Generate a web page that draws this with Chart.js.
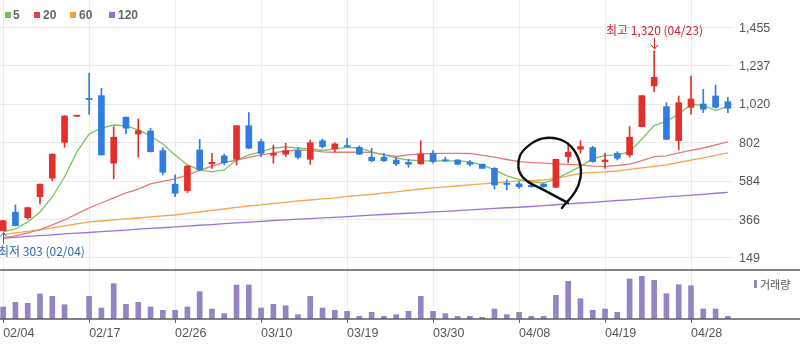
<!DOCTYPE html>
<html><head><meta charset="utf-8">
<script src="https://cdn.jsdelivr.net/npm/chart.js@4.4.1/dist/chart.umd.min.js"></script>
<style>
html,body{margin:0;padding:0;background:#fff;width:800px;height:357px;overflow:hidden;position:relative}
#wrap{position:absolute;left:-3px;top:0;width:803px;height:357px}
.lg{position:absolute;top:9px;font:bold 12px "Liberation Sans",Arial,sans-serif;color:#666;line-height:12px}
.sq{position:absolute;top:12px;width:6px;height:6px}
.vl{position:absolute;left:760px;top:278px;font:11px "Noto Sans CJK KR",sans-serif;color:#555;line-height:12px}
</style></head><body>
<div id="wrap"><canvas id="c" width="803" height="357"></canvas></div>
<div class="sq" style="left:5px;background:#74bf55"></div><div class="lg" style="left:13px">5</div>
<div class="sq" style="left:34px;background:#e8404a"></div><div class="lg" style="left:43px">20</div>
<div class="sq" style="left:70px;background:#f5a142"></div><div class="lg" style="left:79px">60</div>
<div class="sq" style="left:109px;background:#9a6fd3"></div><div class="lg" style="left:118px">120</div>
<div style="position:absolute;left:754px;top:280px;width:3px;height:8px;background:#9484c4"></div><div class="vl">거래량</div>
<script>
const dates=['02/04','02/05','02/08','02/09','02/10','02/15','02/16','02/17','02/18','02/19','02/22','02/23','02/24','02/25','02/26','03/02','03/03','03/04','03/05','03/08','03/09','03/10','03/11','03/12','03/15','03/16','03/17','03/18','03/19','03/22','03/23','03/24','03/25','03/26','03/29','03/30','03/31','04/01','04/02','04/05','04/06','04/07','04/08','04/09','04/12','04/13','04/14','04/15','04/16','04/19','04/20','04/21','04/22','04/23','04/26','04/27','04/28','04/29','04/30','05/03'];
const xTickLabels=['02/04','02/17','02/26','03/10','03/19','03/30','04/08','04/19','04/28'];
const openP=[304,408,377,496,600,803,950,1050,1067,685,945,850,867,756,566,530,760,681,726,707,897,807,730,736,756,707,812,766,781,775,719,719,703,690,681,741,700,703,690,679,656,568,568,555,566,549,722,764,773,694,741,732,892,1122,1005,813,1001,1020,1065,1033];
const highP=[362,449,436,568,738,955,953,1194,1109,892,947,935,883,773,619,671,820,741,736,899,971,820,788,798,770,816,822,801,826,783,770,741,719,707,812,756,719,705,700,681,660,590,581,572,570,709,801,812,780,741,750,892,1069,1320,1027,1065,1178,1103,1127,1058];
const lowP=[303,330,368,455,586,775,950,962,730,596,850,719,748,619,496,519,641,656,675,675,768,722,685,722,709,679,770,750,776,734,694,694,671,662,679,685,696,677,670,654,538,534,543,549,549,547,688,741,690,656,703,719,890,1090,818,760,962,971,996,971];
const closeP=[360,332,434,566,736,952,953,1045,732,832,883,869,750,634,515,669,647,690,688,897,770,741,741,756,719,801,779,794,778,736,699,699,681,679,737,694,698,679,679,656,562,565,552,552,552,707,747,779,694,703,713,832,1067,1171,820,1027,1048,990,1001,996];
const ma5=[296,313,353,409,494,607,749,850,884,901,896,873,839,794,732,675,647,636,647,703,732,749,771,777,771,766,757,766,774,771,749,732,715,703,698,698,698,698,692,675,647,613,593,579,573,596,630,667,709,729,732,749,822,898,921,963,1017,1012,983,1006];
const ma20=[262,274,291,310,336,364,398,432,460,489,517,539,568,582,596,619,644,669,689,703,718,732,743,754,760,757,749,747,747,747,746,734,723,732,737,741,741,741,740,729,719,706,694,688,685,681,678,675,669,667,672,680,700,722,726,743,757,771,788,805];
const ma60=[282,291,299,308,319,330,342,353,358,364,370,375,381,387,392,401,409,418,426,435,443,449,457,463,472,477,483,489,497,503,508,517,523,531,539,545,551,556,562,568,573,579,585,587,590,599,613,627,633,636,641,650,658,667,675,689,703,715,729,743];
const ma120=[262,266,271,275,280,285,289,293,298,302,307,312,316,320,325,329,334,338,343,347,352,356,361,365,369,372,376,379,383,387,391,395,399,402,406,410,413,417,421,425,429,433,436,440,445,450,455,460,464,469,474,478,483,489,494,499,504,509,515,520];
const volume=[2400,3340,3140,5000,4540,2860,60,4540,2200,7060,2940,3340,2400,1740,1740,2400,5460,2000,1060,6800,6800,2200,2940,2660,860,4540,2200,1740,1540,540,1340,540,860,1540,4540,1540,1060,540,540,340,2000,860,1340,540,540,4740,7540,4060,1740,2000,1340,8000,8540,7740,5060,6860,6660,2000,2000,540];
const yTickValues=[149,366.67,584.33,802,1019.67,1237.33,1455];
const yTickLabels=['149','366','584','802','1,020','1,237','1,455'];

const UP='#e3302d', DOWN='#2f7de1';
const candleCol=closeP.map((c,i)=>c>=openP[i]?UP:DOWN);
const hiIdx=highP.indexOf(Math.max(...highP));
const loIdx=lowP.indexOf(Math.min(...lowP));
const tickIdx=xTickLabels.map(l=>dates.indexOf(l));
const lblFont={family:'"Liberation Sans", Arial, sans-serif',size:12.5};

const annot={id:'annot',afterDatasetsDraw(chart){
  const {ctx,scales:{x,y}}=chart;
  ctx.save();
  const hx=Math.round(x.getPixelForValue(hiIdx))+0.5, hy=y.getPixelForValue(highP[hiIdx]);
  ctx.strokeStyle=ctx.fillStyle='#c9252b';ctx.lineWidth=1;
  ctx.beginPath();ctx.moveTo(hx,hy-13);ctx.lineTo(hx,hy-2);ctx.stroke();
  ctx.beginPath();ctx.moveTo(hx-3.5,hy-6);ctx.lineTo(hx,hy-2);ctx.lineTo(hx+3.5,hy-6);ctx.stroke();
  ctx.font='12px "Noto Sans CJK KR", sans-serif';ctx.textAlign='center';ctx.textBaseline='middle';
  ctx.fillText('최고 '+highP[hiIdx].toLocaleString('en-US')+' ('+dates[hiIdx]+')',hx,hy-20);
  const lx=Math.round(x.getPixelForValue(loIdx))+0.5, ly=y.getPixelForValue(lowP[loIdx]);
  ctx.strokeStyle=ctx.fillStyle='#2a66b4';
  ctx.beginPath();ctx.moveTo(lx,ly+13);ctx.lineTo(lx,ly+2);ctx.stroke();
  ctx.beginPath();ctx.moveTo(lx-3.5,ly+6);ctx.lineTo(lx,ly+2);ctx.lineTo(lx+3.5,ly+6);ctx.stroke();
  ctx.textAlign='left';
  ctx.fillText('최저 '+lowP[loIdx].toLocaleString('en-US')+' ('+dates[loIdx]+')',1,ly+21);
  const cx=x.getPixelForValue(45)-6, cy=y.getPixelForValue(647);
  const pts=[[18,33],[3,25],[-10,18],[-23,12],[-31,3],[-32,-9],[-28,-19],[-14,-30],[0,-33],[16,-29],[27,-17],[32,0],[29,16],[22,27],[16,33],[12,38]];
  ctx.strokeStyle='#111';ctx.lineWidth=2.4;ctx.lineJoin='round';ctx.lineCap='round';
  ctx.beginPath();ctx.moveTo(cx+pts[0][0],cy+pts[0][1]);
  for(let i=1;i<pts.length-1;i++){
    const mx=(pts[i][0]+pts[i+1][0])/2, my=(pts[i][1]+pts[i+1][1])/2;
    ctx.quadraticCurveTo(cx+pts[i][0],cy+pts[i][1],cx+mx,cy+my);
  }
  ctx.lineTo(cx+pts[pts.length-1][0],cy+pts[pts.length-1][1]);
  ctx.stroke();
  ctx.restore();
}};
const panelLines={id:'panelLines',afterDraw(chart){
  const {ctx,chartArea,scales:{y}}=chart;
  ctx.save();ctx.strokeStyle='#5c5c5c';ctx.lineWidth=1.5;
  [y.bottom,chartArea.bottom].forEach(v=>{ctx.beginPath();ctx.moveTo(0,Math.round(v));ctx.lineTo(803,Math.round(v));ctx.stroke();});
  ctx.restore();
}};
const noPad=s=>{s.width=66;s.paddingTop=0;s.paddingBottom=0;};

new Chart(document.getElementById('c'),{
  data:{labels:dates,datasets:[
    {type:'bar',label:'body',data:openP.map((o,i)=>[o,closeP[i]]),backgroundColor:candleCol,barThickness:6,minBarLength:1.2,grouped:false,yAxisID:'y',order:1,borderWidth:0},
    {type:'bar',label:'wick',data:lowP.map((l,i)=>[l,highP[i]]),backgroundColor:candleCol,barThickness:1,grouped:false,yAxisID:'y',order:2,borderWidth:0},
    {type:'line',label:'5',data:ma5,borderColor:'#7cc35c',borderWidth:1.3,pointRadius:0,yAxisID:'y',order:3,tension:0},
    {type:'line',label:'20',data:ma20,borderColor:'#e57a7c',borderWidth:1.3,pointRadius:0,yAxisID:'y',order:4,tension:0},
    {type:'line',label:'60',data:ma60,borderColor:'#f3a64c',borderWidth:1.3,pointRadius:0,yAxisID:'y',order:5,tension:0},
    {type:'line',label:'120',data:ma120,borderColor:'#9c74d4',borderWidth:1.3,pointRadius:0,yAxisID:'y',order:6,tension:0},
    {type:'bar',label:'거래량',data:volume,backgroundColor:'#9484c4',barThickness:5,grouped:false,yAxisID:'yv',order:7,borderWidth:0}
  ]},
  options:{
    responsive:false,animation:false,devicePixelRatio:1,
    layout:{padding:0},
    plugins:{legend:{display:false},tooltip:{enabled:false}},
    scales:{
      x:{type:'category',offset:true,
        grid:{offset:false,color:c=>tickIdx.includes(c.index)?'#ececec':'rgba(0,0,0,0)',tickColor:c=>tickIdx.includes(c.index)?'#666':'rgba(0,0,0,0)',tickLength:4,lineWidth:1},
        border:{display:false},
        ticks:{autoSkip:false,maxRotation:0,minRotation:0,align:'start',padding:3,color:'#555',font:lblFont,
          callback:(v,i)=>tickIdx.includes(i)?dates[i]:''},
        afterFit:s=>{s.height=38;s.paddingLeft=0;s.paddingRight=0;}
      },
      y:{position:'right',stack:'p',stackWeight:270,min:81,max:1608,
        grid:{color:'#ebebeb',drawTicks:false},border:{display:false},
        afterBuildTicks:s=>{s.ticks=yTickValues.map(v=>({value:v}));},
        ticks:{padding:5,color:'#555',font:lblFont,labelOffset:1,callback:(v,i)=>yTickLabels[i]},
        afterFit:noPad
      },
      yv:{position:'right',stack:'p',stackWeight:49,min:0,max:9800,
        grid:{display:false},border:{display:false},ticks:{display:false},
        afterFit:noPad
      }
    }
  },
  plugins:[annot,panelLines]
});
</script>
</body></html>
